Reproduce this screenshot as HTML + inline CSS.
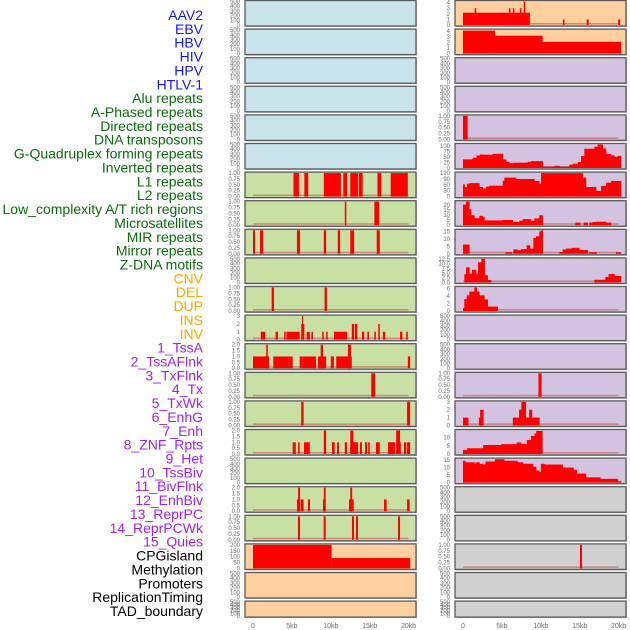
<!DOCTYPE html>
<html><head><meta charset="utf-8"><style>
html,body{margin:0;padding:0;background:#fff;}
svg{display:block;font-family:"Liberation Sans",sans-serif;}
</style></head><body>
<svg id="chart" width="630" height="630" viewBox="0 0 630 630" xmlns="http://www.w3.org/2000/svg">
<g id="labels"></g>
<g id="panels"></g>
<g id="xaxes"></g>
</svg>
<script>
const labelNames = ["AAV2","EBV","HBV","HIV","HPV","HTLV-1","Alu repeats","A-Phased repeats","Directed repeats","DNA transposons","G-Quadruplex forming repeats","Inverted repeats","L1 repeats","L2 repeats","Low_complexity A/T rich regions","Microsatellites","MIR repeats","Mirror repeats","Z-DNA motifs","CNV","DEL","DUP","INS","INV","1_TssA","2_TssAFlnk","3_TxFlnk","4_Tx","5_TxWk","6_EnhG","7_Enh","8_ZNF_Rpts","9_Het","10_TssBiv","11_BivFlnk","12_EnhBiv","13_ReprPC","14_ReprPCWk","15_Quies","CPGisland","Methylation","Promoters","ReplicationTiming","TAD_boundary"];
const labelGroups = [6,13,5,15,5];
const groupColors = ["#1414ff","#0a6a0a","#ffa500","#a020f0","#000000"];

const xTicks = [0,5,10,15,20];
const xTickLabels = ["0","5kb","10kb","15kb","20kb"];

const tEmpty = [0,100,200,300,400,500];
const tOne = [0,0.25,0.5,0.75,1];
const tTwo = [0,0.5,1,1.5,2];
const tThree = [0,1,2,3];
const tFour = [0,1,2,3,4];

const L12_segs = [[5.2,5.9,1],[6.6,7.1,1],[9.1,11.3,1],[11.6,12.1,1],[12.5,13.5,1],[13.6,14.1,1],[16.0,16.5,1],[17.7,19.9,1]];
const L13_segs = [[11.8,12.0,1],[15.6,16.2,1]];
const L14_segs = [[0,0.26,1],[0.9,1.3,1],[5.65,6.05,1],[9.1,9.4,1],[10.9,11.2,1],[12.5,13.0,1],[15.9,16.3,1]];
const L16_segs = [[2.4,2.7,1],[9.2,9.5,1]];
const L17_segs = [[1.0,1.55,1],[2.9,3.2,1],[4.0,4.2,1],[4.3,5.4,1],[5.4,6.0,1],[6.2,6.6,2],[6.3,6.4,3],[6.9,7.3,1],[7.5,7.7,1],[8.9,9.1,1],[9.4,9.6,1],[10.4,12.1,1],[12.7,13.0,2],[13.1,13.4,2],[14.0,14.3,1],[14.7,14.9,1],[15.6,15.8,1],[16.1,16.3,2],[16.7,17.0,1],[18.9,19.2,1],[19.7,19.9,1]];
const L18_segs = [[0,2.06,1],[1.7,1.9,2],[2.6,4.6,1],[4.6,5.1,1],[6.0,6.4,1],[6.4,8.1,1],[8.35,9.4,1],[8.7,9.0,2],[10.0,10.4,1],[10.7,12.7,1],[12.2,12.6,2],[19.9,20.2,1]];
const L19_segs = [[15.2,15.7,1]];
const L20_segs = [[6.2,6.5,1],[19.8,20.2,1]];
const L21_segs = [[5.1,5.5,1],[5.8,6.0,1],[6.55,7.3,1],[9.1,9.4,2],[10.15,10.5,1],[10.8,11.05,1],[11.8,12.1,1],[12.5,13.5,1],[12.5,12.9,2],[13.75,14.0,1],[14.4,14.65,1],[14.8,15.0,1],[15.8,16.3,1],[17.35,18.25,1],[18.4,19.0,1],[18.4,18.9,2],[19.4,19.7,1],[19.8,20.2,1]];
const L23_segs = [[5.65,6.1,1],[5.8,6.05,2],[6.17,6.5,1],[7.07,7.33,1],[9.0,9.34,1],[9.1,9.34,2],[12.34,12.94,1],[12.5,12.75,2],[16.84,17.18,1],[19.8,20.14,1]];
const L24_segs = [[5.78,6.04,1],[9.08,9.34,1],[12.72,12.98,1],[13.24,13.5,1],[18.64,18.9,1]];
const L25_segs = [[0,10.1,200],[10.1,20.2,88]];

const R0_segs = [[0,8.6,2.2],[1.5,1.7,3],[5.9,6.1,3],[6.4,6.6,3],[7.3,7.5,3],[7.8,8.0,4.2],[12.85,13.05,1],[15.9,16.15,1],[19.95,20.2,1]];
const R1_edges = [0,4.1,10.2,20.3];
const R1_vals = [4.1,3.2,2.1];
const R4_segs = [[0,0.6,1]];
const R5_edges = [0,1.24,1.76,2.19,2.53,3.81,5.1,5.53,5.96,6.38,8.31,8.74,10.24,11.74,12.38,13.67,14.1,14.74,15.17,15.6,16.88,17.3,17.95,18.38,19.02,19.45,19.88,20.3];
const R5_vals = [39,46,57,61,60,64,39,28,22,24,28,31,6,10,6,15,19,27,54,87,96,106,88,64,57,51,55];
const R6_edges = [0,0.21,0.51,0.81,2.1,2.53,2.96,3.38,5.1,5.31,6.81,9.17,9.81,10.03,15.38,15.81,17.1,17.74,18.38,19.02,20.31];
const R6_vals = [63,49,66,69,49,42,51,56,80,97,90,80,66,120,97,49,29,54,71,80];
const R7_edges = [0,0.39,0.81,1.03,1.46,2.1,2.53,2.74,5.1,6.38,7.24,7.67,8.74,9.17,9.81,10.24,14.44,15.04,15.51,16.02,16.24,16.67,17.1,18.38,19.02];
const R7_vals = [20.6,23.5,16,10,7,9.4,8.4,4.8,5.2,3.2,4.5,6.1,4.5,6.8,10,0,2.6,0,2.6,0,2.6,3.2,3.5,2.6];
const R8_edges = [0,0.81,5.44,6.3,6.47,7.03,7.45,8.18,8.61,9.04,9.38,9.81,10.03,10.24,12.38,12.81,13.24,13.97,14.95,16.02,16.24,17.18,19.67,20.3];
const R8_vals = [6.2,0,1.1,0,2.9,2.4,3.1,5.7,3.5,10.6,11.7,15,15.7,0,1.1,2.9,3.5,4,2.6,0,1.1,0,1.1];
const R9_edges = [0.17,0.39,0.81,1.16,1.67,1.93,2.36,2.78,3.17,3.6,16.88,18.29,18.72,19.45,20.3];
const R9_vals = [4.3,8,4.7,6.7,4.7,10.7,12.5,3.8,1.3,0,1.4,2.9,4.5,3.4];
const R10_edges = [0,0.17,0.47,0.81,1.46,1.76,2.1,2.74,3.17,4.46];
const R10_vals = [0.8,3.2,4.2,5.2,6.3,5.2,4.2,3.1,1.2];
const R13_segs = [[9.7,10.1,1]];
const R14_segs = [[0,0.7,1],[2.05,2.65,1],[2.2,2.65,2],[6.4,9.85,1],[7.2,8.1,2],[7.5,8.1,3],[8.5,8.9,2]];
const R15_edges = [0,0.5,2.6,4.9,6.9,7.45,7.9,8.2,8.75,9.2,9.4,10.2];
const R15_vals = [2.5,3.5,5.5,6,7,6.2,6,8.5,11,12.5,14];
const R16_edges = [0,0.3,1.46,1.6,2.1,2.5,2.9,4.1,5.3,7.0,7.7,9.0,9.4,9.8,10.0,10.45,12.8,14.2,14.6,15.8,17.65,19.9,20.3];
const R16_vals = [14.5,13.5,12.5,13.5,12.5,12,14,15.5,14.5,13.5,12.5,10.5,8,7,12.5,12,10,8.5,6,3.5,2.5,1];
const R19_segs = [[15.04,15.3,1]];

const BLUE="#c8e3ea", GREEN="#c8e0a4", PEACH="#fecf9f", LAV="#d3c3e0", GREY="#d0d0d0";
function fmt(t,dec){return t.toFixed(dec);}
const L = [
 ["blue",tEmpty,500,0],["blue",tEmpty,500,0],["blue",tEmpty,500,0],["blue",tEmpty,500,0],["blue",tEmpty,500,0],["blue",tEmpty,500,0],
 ["green",tOne,1,2,L12_segs],["green",tOne,1,2,L13_segs],["green",tOne,1,2,L14_segs],["green",tEmpty,500,0],
 ["green",tOne,1,2,L16_segs],["green",tThree,3,0,L17_segs],["green",tTwo,2,1,L18_segs],["green",tOne,1,2,L19_segs],
 ["green",tOne,1,2,L20_segs],["green",tTwo,2,1,L21_segs],["green",tEmpty,500,0],["green",tTwo,2,1,L23_segs],
 ["green",tOne,1,2,L24_segs],["peach",[0,50,100,150,200],200,0,L25_segs],["peach",tEmpty,500,0],["peach",tEmpty,500,0]
];
const R = [
 ["peach",tFour,4.2,0,R0_segs],["peach",tFour,4.2,0,null,R1_edges,R1_vals],["lav",tEmpty,500,0],["lav",tEmpty,500,0],
 ["lav",tOne,1,2,R4_segs],["lav",[0,25,50,75,100],106,0,null,R5_edges,R5_vals],["lav",[0,30,60,90,120],120,0,null,R6_edges,R6_vals],
 ["lav",[0,5,10,15,20],23.5,0,null,R7_edges,R7_vals],["lav",[0,5,10,15],15.7,0,null,R8_edges,R8_vals],
 ["lav",[0,2.5,5,7.5,10,12.5],12.5,1,null,R9_edges,R9_vals],["lav",[0,2,4,6],6.3,0,null,R10_edges,R10_vals],
 ["lav",tEmpty,500,0],["lav",tEmpty,500,0],["lav",tOne,1,2,R13_segs],["lav",tThree,3,0,R14_segs],
 ["lav",[0,5,10],14.3,0,null,R15_edges,R15_vals],["lav",[0,5,10,15],15.6,0,null,R16_edges,R16_vals],
 ["grey",tEmpty,500,0],["grey",tEmpty,500,0],["grey",tOne,1,2,R19_segs],["grey",tEmpty,500,0],["grey",tEmpty,500,0]
];
const bgMap={blue:BLUE,green:GREEN,peach:PEACH,lav:LAV,grey:GREY};
const NS="http://www.w3.org/2000/svg";
function mk(tag,attrs,parent){const e=document.createElementNS(NS,tag);for(const k in attrs)e.setAttribute(k,attrs[k]);parent.appendChild(e);return e;}

const lg=document.getElementById('labels');
let gi=0,cnt=0;
labelNames.forEach((n,i)=>{
  while(cnt>=labelGroups[gi]){cnt-=labelGroups[gi];gi++;}
  const t=mk('text',{x:203,y:15+i*13.86,'text-anchor':'end','dominant-baseline':'central','font-size':'14',fill:groupColors[gi]},lg);
  
  
  t.textContent=n;cnt++;
});

const pg=document.getElementById('panels');
function drawCol(spec,bx,x0,side){
  const xs=kb=>x0+kb*7.78;
  spec.forEach((s,i)=>{
    const top=0.5+i*28.6, h=(i==21?16:25.5), bottom=top+h;
    const g=mk('g',{},pg);
    
    
    mk('rect',{x:bx+1,y:top+1,width:171,height:h,fill:'#bbb'},g);
    mk('rect',{x:bx,y:top,width:171,height:h,fill:bgMap[s[0]],stroke:'#5a5a5a','stroke-width':1.3},g);
    const ymax=s[2], ph=h-2, yb=bottom-1;
    const ys=v=>yb-Math.min(v,ymax)/ymax*ph;
    const hasData = s[4]||s[5];
    if(hasData){
      const bl=mk('rect',{x:xs(0),y:yb-2,width:xs(20)-xs(0),height:1.5,fill:'#c85050',opacity:0.6},g);
      
      
    }
    if(s[4]){s[4].forEach(d=>{
      const r=mk('rect',{x:xs(d[0]),y:ys(d[2]),width:Math.max(1,xs(d[1])-xs(d[0])),height:yb-ys(d[2]),fill:'#ff0000'},g);
      
      
    });}
    if(s[5]){const e=s[5],v=s[6];for(let k=0;k<v.length;k++){if(v[k]<=0)continue;
      const r=mk('rect',{x:xs(e[k]),y:ys(v[k]),width:xs(e[k+1])-xs(e[k])+0.3,height:yb-ys(v[k]),fill:'#ff0000'},g);
      
      
    }}
    s[1].forEach(t=>{
      const tx=mk('text',{x:bx-5,y:ys(t)+2,'text-anchor':'end','font-size':'6',fill:'#666'},g);
      
      
      tx.textContent=fmt(t,s[3]);
    });
  });
  const xa=document.getElementById('xaxes');
  xTicks.forEach((t,k)=>{
    const tx=mk('text',{x:xs(t),y:628,'text-anchor':'middle','font-size':'7',fill:'#666'},xa);
    
    
    tx.textContent=xTickLabels[k];
  });
}
drawCol(L,245,253,'left');
drawCol(R,455,463,'right');
</script>
</body></html>
